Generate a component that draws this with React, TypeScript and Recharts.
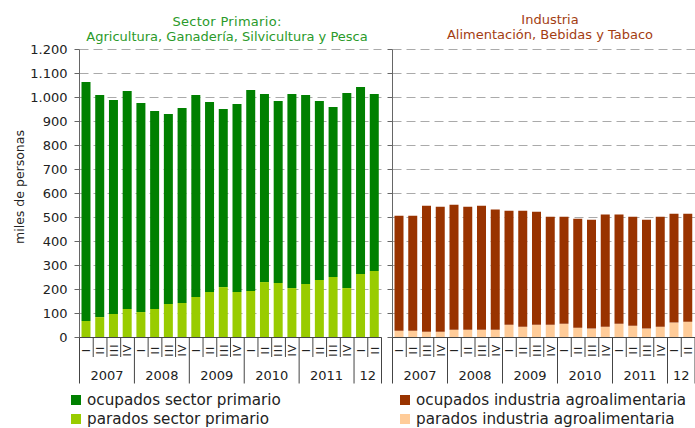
import React from 'react';
import { BarChart, Bar, XAxis, YAxis, CartesianGrid } from 'recharts';

const quarters = ['I', 'II', 'III', 'IV', 'I', 'II', 'III', 'IV', 'I', 'II', 'III', 'IV', 'I', 'II', 'III', 'IV', 'I', 'II', 'III', 'IV', 'I', 'II'];
const years = ['2007', '2007', '2007', '2007', '2008', '2008', '2008', '2008', '2009', '2009', '2009', '2009', '2010', '2010', '2010', '2010', '2011', '2011', '2011', '2011', '12', '12'];

const primParados = [69, 85, 98, 119, 106, 119, 140, 144, 169, 190, 210, 190, 194, 231, 227, 206, 223, 240, 252, 206, 265, 277];
const primOcupados = [996, 925, 892, 908, 871, 825, 791, 812, 841, 791, 742, 783, 837, 784, 758, 809, 787, 745, 708, 813, 779, 738];

const indParados = [28, 28, 24, 24, 32, 32, 32, 32, 53, 45, 53, 53, 57, 41, 37, 45, 57, 49, 37, 45, 62, 66];
const indOcupados = [479, 479, 525, 521, 521, 513, 517, 501, 475, 483, 471, 450, 446, 454, 454, 467, 455, 454, 454, 458, 454, 450];

const yTicks = [0, 100, 200, 300, 400, 500, 600, 700, 800, 900, 1000, 1100, 1200];

const C_OCUP_PRIM = '#008000';
const C_PAR_PRIM = '#99cc00';
const C_OCUP_IND = '#993300';
const C_PAR_IND = '#ffcc99';

const FONT = '"DejaVu Sans", Verdana, sans-serif';
const TOP = 49.5;
const AXIS_Y = 337.5;
const CH_H = 428;
const YW = 79.5;

const fmt = (v: number) =>
  v >= 1000 ? `${Math.floor(v / 1000)}.${String(v % 1000).padStart(3, '0')}` : String(v);

const leftData = quarters.map((q, i) => ({ id: `${years[i]}-${q}-${i}`, parados: primParados[i], ocupados: primOcupados[i] }));
const rightData = quarters.map((q, i) => ({ id: `${years[i]}-${q}-${i}`, parados: indParados[i], ocupados: indOcupados[i] }));

const makeTick = (bw: number) => (props: any) => {
  const { x } = props;
  const i: number = props.index ?? props.payload?.index ?? 0;
  const q = quarters[i];
  const yearStart = i === 0 || years[i] !== years[i - 1];
  const left = x - bw / 2;
  const right = x + bw / 2;
  const stroke = '#444';
  let count = 0;
  if (yearStart) {
    for (let j = i; j < years.length && years[j] === years[i]; j++) count++;
  }
  return (
    <g>
      <line x1={left} x2={left} y1={AXIS_Y} y2={yearStart ? 383.5 : 357} stroke={stroke} strokeWidth={1} />
      {i === quarters.length - 1 && (
        <line x1={right} x2={right} y1={AXIS_Y} y2={383.5} stroke={stroke} strokeWidth={1} />
      )}
      <text
        x={x}
        y={350}
        dy="0.36em"
        textAnchor="middle"
        transform={`rotate(-90, ${x}, 350)`}
        fontSize={11}
        letterSpacing={1.2}
        fontFamily={FONT}
        fill="#222"
      >
        {q}
      </text>
      {yearStart && (
        <text x={left + (count * bw) / 2} y={379.5} textAnchor="middle" fontSize={13} fontFamily={FONT} fill="#222">
          {years[i]}
        </text>
      )}
    </g>
  );
};

type PanelProps = {
  data: any[];
  left: number;
  width: number;
  marginRight: number;
  cPar: string;
  cOcup: string;
  showLabels: boolean;
};

function Panel({ data, left, width, marginRight, cPar, cOcup, showLabels }: PanelProps) {
  const plotW = width - YW - marginRight;
  const bw = plotW / data.length;
  return (
    <div style={{ position: 'absolute', left, top: 0 }}>
      <BarChart
        width={width}
        height={CH_H}
        data={data}
        margin={{ top: TOP, right: marginRight, bottom: 0, left: 0 }}
        barSize={9}
      >
        <CartesianGrid vertical={false} stroke="#aaaaaa" strokeDasharray="9 5" />
        <XAxis
          dataKey="id"
          interval={0}
          tickLine={false}
          axisLine={{ stroke: '#444' }}
          height={CH_H - AXIS_Y}
          tick={makeTick(bw)}
        />
        <YAxis
          width={YW}
          domain={[0, 1200]}
          ticks={yTicks}
          interval={0}
          tickSize={5}
          tickMargin={7}
          axisLine={{ stroke: '#666' }}
          tickLine={{ stroke: '#666' }}
          tickFormatter={showLabels ? fmt : () => ''}
          tick={{ fontSize: 13, fill: '#222', fontFamily: FONT }}
        />
        <Bar dataKey="parados" stackId="a" fill={cPar} isAnimationActive={false} />
        <Bar dataKey="ocupados" stackId="a" fill={cOcup} isAnimationActive={false} />
      </BarChart>
    </div>
  );
}

const legendItems = [
  { label: 'ocupados sector primario', color: C_OCUP_PRIM, x: 71, y: 400 },
  { label: 'parados sector primario', color: C_PAR_PRIM, x: 71, y: 419 },
  { label: 'ocupados industria agroalimentaria', color: C_OCUP_IND, x: 400, y: 400 },
  { label: 'parados industria agroalimentaria', color: C_PAR_IND, x: 400, y: 419 },
];

export default function App() {
  return (
    <div style={{ position: 'absolute', left: 0, top: 0, width: 695, height: 428, background: '#fff', overflow: 'hidden' }}>
      <Panel data={leftData} left={0} width={390} marginRight={8.5} cPar={C_PAR_PRIM} cOcup={C_OCUP_PRIM} showLabels={true} />
      <Panel data={rightData} left={313} width={382} marginRight={0} cPar={C_PAR_IND} cOcup={C_OCUP_IND} showLabels={false} />
      <svg width={695} height={428} style={{ position: 'absolute', left: 0, top: 0, pointerEvents: 'none' }}>
        <text x={227} y={26} textAnchor="middle" fontSize={13} fontFamily={FONT} fill="#2a9a2a" letterSpacing={0.3}>
          Sector Primario:
        </text>
        <text x={227} y={40.5} textAnchor="middle" fontSize={13} fontFamily={FONT} fill="#2a9a2a">
          Agricultura, Ganadería, Silvicultura y Pesca
        </text>
        <text x={550} y={23.5} textAnchor="middle" fontSize={13} fontFamily={FONT} fill="#a33d12">
          Industria
        </text>
        <text x={550} y={38.5} textAnchor="middle" fontSize={13} fontFamily={FONT} fill="#a33d12">
          Alimentación, Bebidas y Tabaco
        </text>
        <text
          x={20}
          y={187}
          dy="0.35em"
          textAnchor="middle"
          transform="rotate(-90, 20, 187)"
          fontSize={12.5}
          fontFamily={FONT}
          fill="#222"
        >
          miles de personas
        </text>
        {legendItems.map((it) => (
          <g key={it.label}>
            <rect x={it.x} y={it.y - 5} width={10} height={10} fill={it.color} />
            <text x={it.x + 16} y={it.y} dy="0.35em" fontSize={15.2} fontFamily={FONT} fill="#222">
              {it.label}
            </text>
          </g>
        ))}
      </svg>
    </div>
  );
}
